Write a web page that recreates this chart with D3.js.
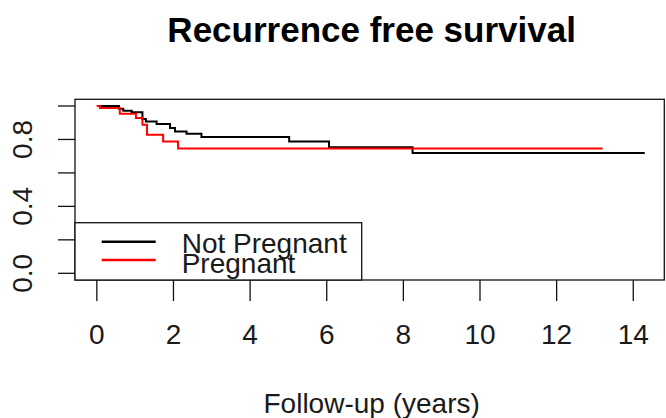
<!DOCTYPE html>
<html><head><meta charset="utf-8">
<script src="https://cdn.jsdelivr.net/npm/d3@7"></script>
<style>body{margin:0;background:#fff}svg{display:block}</style>
</head><body>
<script>
const title = "Recurrence free survival";
const xLabel = "Follow-up (years)";
const seriesNames = ["Not Pregnant", "Pregnant"];
const seriesColors = ["#000000", "#ff0000"];
const notPregTimes = [0, 0.58, 0.69, 0.91, 1.19, 1.28, 1.56, 1.91, 2.04, 2.34, 2.73, 5.02, 6.06, 8.24, 14.3];
const notPregSurv  = [1.0, 0.984, 0.972, 0.962, 0.922, 0.908, 0.892, 0.868, 0.848, 0.834, 0.814, 0.788, 0.754, 0.719, 0.719];
const pregTimes = [0, 0.08, 0.60, 1.02, 1.19, 1.31, 1.73, 2.12, 13.2];
const pregSurv  = [1.0, 0.988, 0.954, 0.928, 0.888, 0.828, 0.788, 0.746, 0.746];
const xTicks = [0, 2, 4, 6, 8, 10, 12, 14];
const yTicks = [0, 0.2, 0.4, 0.6, 0.8, 1.0];
const yTickLabels = ["0.0", "", "0.4", "", "0.8", ""];

const W = 666, H = 418;
const box = {l: 75, r: 664.3, t: 99.3, b: 280};
const svg = d3.select("body").append("svg").attr("width", W).attr("height", H);
const font = "'Liberation Sans', Arial, sans-serif";

const x = d3.scaleLinear().domain([-0.57, 14.81]).range([box.l, box.r]);
const y = d3.scaleLinear().domain([-0.04, 1.04]).range([box.b, box.t]);

const series = [
  {name: seriesNames[0], color: seriesColors[0], pts: notPregTimes.map((t, i) => [t, notPregSurv[i]])},
  {name: seriesNames[1], color: seriesColors[1], pts: pregTimes.map((t, i) => [t, pregSurv[i]])}
];
const line = d3.line().x(d => x(d[0])).y(d => y(d[1])).curve(d3.curveStepAfter);
series.forEach(s => {
  svg.append("path").attr("d", line(s.pts)).attr("fill", "none")
    .attr("stroke", s.color).attr("stroke-width", 2);
});

// box
svg.append("rect").attr("x", box.l).attr("y", box.t)
  .attr("width", box.r - box.l).attr("height", box.b - box.t)
  .attr("fill", "none").attr("stroke", "#111").attr("stroke-width", 1.3);

// x axis
const xAxis = svg.append("g");
xTicks.forEach(t => {
  xAxis.append("line").attr("x1", x(t)).attr("x2", x(t)).attr("y1", box.b).attr("y2", box.b + 21)
    .attr("stroke", "#111").attr("stroke-width", 1.3);
  xAxis.append("text").attr("x", x(t)).attr("y", 344).attr("text-anchor", "middle")
    .attr("font-family", font).attr("font-size", 28).attr("fill", "#1a1a1a").text(t);
});
// y axis
const yAxis = svg.append("g");
yTicks.forEach((t, i) => {
  yAxis.append("line").attr("x1", box.l - 17).attr("x2", box.l).attr("y1", y(t)).attr("y2", y(t))
    .attr("stroke", "#111").attr("stroke-width", 1.3);
  if (yTickLabels[i]) {
    yAxis.append("text").attr("transform", `translate(31.5,${y(t)}) rotate(-90)`)
      .attr("text-anchor", "middle").attr("font-family", font).attr("font-size", 28)
      .attr("fill", "#1a1a1a").text(yTickLabels[i]);
  }
});

// title and label
const cx = (box.l + box.r) / 2;
svg.append("text").attr("x", cx + 2).attr("y", 41.7).attr("text-anchor", "middle")
  .attr("font-family", font).attr("font-weight", "bold").attr("font-size", 35).attr("fill", "#000").text(title);
svg.append("text").attr("x", cx + 2).attr("y", 413).attr("text-anchor", "middle")
  .attr("font-family", font).attr("font-size", 28).attr("fill", "#1a1a1a").text(xLabel);

// legend
const leg = svg.append("g");
leg.append("rect").attr("x", box.l).attr("y", 222.7).attr("width", 361.7 - box.l).attr("height", box.b - 222.7)
  .attr("fill", "#fff").attr("stroke", "#111").attr("stroke-width", 1.3);
const legY = [241.7, 260];
const legBase = [253.3, 273.3];
series.forEach((s, i) => {
  leg.append("line").attr("x1", 101.7).attr("x2", 155.7).attr("y1", legY[i]).attr("y2", legY[i])
    .attr("stroke", s.color).attr("stroke-width", 2.5);
  leg.append("text").attr("x", 181.7).attr("y", legBase[i]).attr("font-family", font)
    .attr("font-size", 28).attr("fill", "#1a1a1a").text(s.name);
});
</script>
</body></html>
